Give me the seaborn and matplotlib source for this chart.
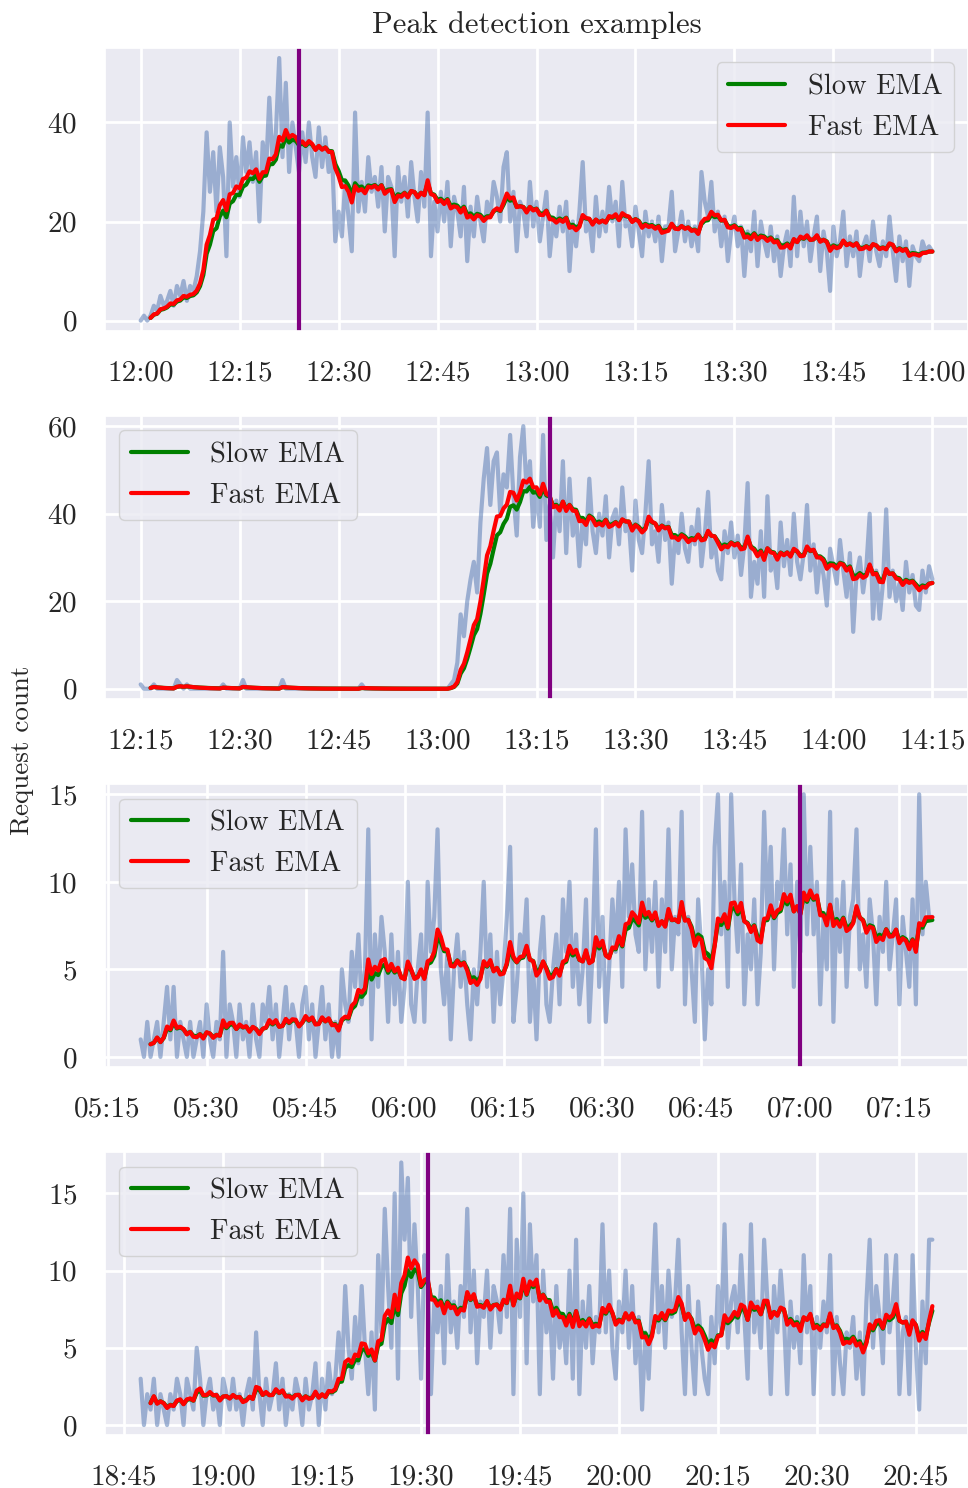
import matplotlib
matplotlib.use('Agg')
import matplotlib.pyplot as plt
import matplotlib.dates as mdates
import matplotlib.ticker as mticker
import seaborn as sns
import pandas as pd

# request counts, one value every 30 s
starts = ['2023-01-01 12:00:00', '2023-01-01 12:15:00',
          '2023-01-01 05:20:00', '2023-01-01 18:47:30']
peaks = ['2023-01-01 12:24:00', '2023-01-01 13:17:00',
         '2023-01-01 07:00:00', '2023-01-01 19:31:00']

counts_1 = [0, 1, 0, 1, 3, 2, 5, 3, 4, 6, 3, 7, 5, 8, 4, 7, 6, 9, 14, 22,
            38, 26, 34, 22, 35, 29, 13, 40, 27, 33, 25, 37, 30, 36, 28, 34,
            20, 36, 30, 45, 32, 38, 53, 33, 48, 30, 40, 35, 30, 38, 32, 40,
            33, 29, 39, 31, 37, 30, 34, 16, 22, 17, 28, 21, 14, 42, 22, 28,
            22, 33, 26, 29, 23, 31, 18, 29, 27, 13, 31, 24, 29, 21, 32, 25,
            20, 30, 23, 42, 13, 24, 18, 26, 20, 28, 15, 25, 22, 17, 27, 12,
            23, 17, 25, 20, 16, 24, 21, 28, 25, 20, 31, 34, 20, 26, 14, 24,
            22, 17, 28, 19, 24, 16, 21, 26, 13, 20, 17, 23, 18, 24, 10, 20,
            15, 22, 32, 18, 20, 14, 25, 17, 22, 18, 27, 20, 24, 15, 28, 19,
            20, 15, 23, 18, 13, 22, 17, 20, 16, 21, 12, 19, 19, 26, 14, 18,
            22, 16, 20, 15, 19, 14, 30, 24, 21, 28, 18, 22, 15, 21, 12, 18,
            21, 15, 19, 9, 18, 14, 22, 11, 20, 16, 13, 19, 12, 17, 9, 15,
            18, 11, 25, 13, 22, 15, 20, 12, 17, 21, 10, 18, 14, 6, 19, 13,
            16, 22, 11, 17, 13, 18, 9, 15, 17, 12, 20, 14, 11, 16, 13, 21,
            14, 8, 17, 12, 16, 7, 15, 13, 12, 16, 14, 15, 14]

counts_2 = [1, 0, 0, 0, 1, 0, 0, 0, 0, 0, 0, 2, 1, 0, 1, 0, 0, 0, 0, 0,
            0, 0, 0, 0, 0, 1, 0, 0, 0, 0, 0, 2, 0, 0, 0, 0, 0, 0, 0, 0,
            0, 0, 0, 2, 0, 0, 0, 0, 0, 0, 0, 0, 0, 0, 0, 0, 0, 0, 0, 0,
            0, 0, 0, 0, 0, 0, 0, 1, 0, 0, 0, 0, 0, 0, 0, 0, 0, 0, 0, 0,
            0, 0, 0, 0, 0, 0, 0, 0, 0, 0, 0, 0, 0, 0, 1, 2,
            6, 17, 12, 20, 25, 29, 22, 38, 48, 55, 42, 52, 54, 40, 49, 46,
            58, 44, 35, 53, 60, 45, 52, 37, 46, 37, 58, 34, 42, 30, 43, 36,
            52, 31, 48, 35, 40, 28, 39, 33, 48, 36, 31, 40, 35, 44, 30, 39,
            41, 33, 46, 36, 38, 27, 43, 34, 31, 40, 52, 33, 36, 29, 42, 34,
            38, 24, 35, 31, 40, 32, 29, 37, 33, 41, 28, 35, 45, 30, 34, 27,
            25, 36, 31, 38, 30, 35, 26, 33, 47, 21, 29, 24, 36, 21, 44, 27,
            30, 23, 38, 28, 34, 26, 40, 29, 25, 31, 42, 27, 33, 22, 30, 26,
            19, 32, 28, 24, 34, 27, 21, 31, 13, 26, 30, 22, 28, 40, 16, 27,
            16, 24, 41, 21, 27, 20, 24, 18, 29, 22, 26, 19, 18, 27, 22, 28,
            25]

counts_3 = [1, 0, 2, 0, 1, 2, 0, 2, 4, 1, 4, 0, 2, 1, 0, 2, 0, 1, 2, 0,
            3, 1, 0, 2, 1, 6, 0, 3, 2, 0, 3, 1, 2, 0, 3, 1, 0, 3, 2, 4,
            1, 3, 0, 2, 4, 1, 3, 2, 0, 3, 4, 1, 3, 0, 2, 4, 1, 3, 0, 2,
            0, 5, 3, 2, 6, 4, 7, 3, 5, 13, 1, 7, 4, 8, 6, 2, 7, 3, 6, 2,
            4, 10, 3, 2, 5, 7, 2, 10, 6, 8, 13, 5, 3, 6, 1, 5, 7, 4, 6, 3,
            1, 5, 3, 6, 10, 4, 7, 2, 6, 3, 5, 8, 12, 2, 4, 7, 6, 9, 2, 5,
            1, 6, 8, 3, 2, 5, 7, 3, 9, 6, 10, 4, 7, 3, 5, 9, 2, 6, 13, 4,
            8, 2, 5, 9, 6, 10, 4, 13, 8, 11, 7, 6, 14, 5, 9, 6, 10, 4, 9, 6,
            13, 5, 8, 7, 14, 3, 8, 5, 2, 9, 6, 1, 5, 3, 12, 15, 7, 10, 4, 15,
            9, 6, 11, 3, 7, 5, 9, 3, 6, 14, 8, 12, 5, 10, 9, 13, 7, 11, 4, 10,
            6, 15, 7, 12, 7, 10, 3, 8, 5, 14, 2, 9, 6, 10, 4, 8, 9, 13, 5, 7,
            4, 9, 7, 3, 8, 6, 10, 5, 7, 9, 3, 8, 6, 4, 9, 3, 15, 7, 10, 8,
            8]

counts_4 = [3, 0, 2, 1, 3, 0, 2, 1, 0, 2, 1, 3, 2, 0, 3, 2, 1, 5, 3, 0,
            2, 3, 1, 2, 0, 3, 2, 1, 3, 1, 2, 0, 2, 3, 1, 6, 2, 0, 3, 1,
            2, 4, 1, 3, 0, 2, 1, 3, 2, 0, 3, 1, 2, 4, 0, 3, 1, 4, 2, 3,
            6, 3, 9, 5, 3, 7, 4, 9, 5, 2, 6, 1, 11, 6, 14, 9, 5, 15, 3, 17,
            12, 16, 7, 13, 9, 3, 11, 10, 2, 8, 6, 9, 4, 11, 6, 8, 5, 9, 7, 14,
            6, 10, 4, 8, 7, 10, 5, 9, 8, 6, 11, 7, 14, 2, 12, 7, 15, 4, 13, 8,
            11, 2, 10, 6, 8, 3, 9, 5, 7, 4, 10, 3, 12, 2, 8, 5, 9, 4, 7, 6,
            13, 6, 10, 5, 3, 8, 6, 10, 5, 9, 4, 7, 1, 6, 3, 8, 13, 6, 9, 5,
            10, 7, 8, 12, 6, 2, 9, 5, 2, 8, 5, 3, 2, 7, 4, 9, 6, 13, 5, 8,
            9, 6, 11, 7, 3, 13, 6, 8, 5, 12, 8, 2, 9, 6, 10, 7, 2, 8, 5, 7,
            4, 11, 6, 9, 2, 7, 5, 8, 6, 11, 2, 7, 4, 2, 6, 5, 7, 3, 6, 2,
            8, 12, 5, 9, 7, 4, 11, 6, 8, 11, 2, 6, 7, 2, 11, 5, 1, 8, 4, 12,
            12]

all_counts = [counts_1, counts_2, counts_3, counts_4]
y_steps = [20, 20, 5, 5]
legend_locs = ['upper right', 'upper left', 'upper left', 'upper left']


def main():
    sns.set_theme(style='darkgrid')
    plt.rcParams['font.family'] = 'serif'
    plt.rcParams['font.serif'] = ['cmr10', 'DejaVu Serif']
    plt.rcParams['mathtext.fontset'] = 'cm'
    plt.rcParams['axes.formatter.use_mathtext'] = True

    fig, axes = plt.subplots(4, 1, figsize=(9.68, 14.88), dpi=100)
    fig.subplots_adjust(left=0.1085, right=1.0, top=0.9677,
                        bottom=0.0356, hspace=0.303)

    for k, ax in enumerate(axes):
        df = pd.DataFrame({'count': all_counts[k]})
        df['time'] = pd.date_range(starts[k], periods=len(df), freq='30s')
        # moving averages of the raw counts
        df['slow'] = df['count'].ewm(span=13, min_periods=4).mean()
        df['fast'] = df['count'].ewm(span=10, min_periods=4).mean()

        sns.lineplot(data=df, x='time', y='count', ax=ax, color='C0',
                     alpha=0.5, linewidth=3, errorbar=None)
        sns.lineplot(data=df, x='time', y='slow', ax=ax, color='green',
                     linewidth=3, label='Slow EMA', errorbar=None)
        sns.lineplot(data=df, x='time', y='fast', ax=ax, color='red',
                     linewidth=3, label='Fast EMA', errorbar=None)
        ax.axvline(pd.Timestamp(peaks[k]), color='purple', linewidth=3)

        ax.margins(x=0.045, y=0.038)
        ax.xaxis.set_major_locator(mdates.MinuteLocator(byminute=[0, 15, 30, 45]))
        ax.xaxis.set_major_formatter(mdates.DateFormatter('%H:%M'))
        ax.yaxis.set_major_locator(mticker.MultipleLocator(y_steps[k]))
        ax.grid(linewidth=2)
        ax.set_xlabel('')
        ax.set_ylabel('')
        ax.tick_params(axis='x', labelsize=21, length=0, pad=21)
        ax.tick_params(axis='y', labelsize=21, length=0, pad=20)
        ax.legend(loc=legend_locs[k], fontsize=20.5)

    axes[0].set_title('Peak detection examples', fontsize=22, pad=11)
    fig.text(0.0227, 0.496, 'Request count', rotation=90, ha='center',
             va='center', fontsize=19.5)

    plt.savefig('out.png', dpi=100)


if __name__ == "__main__":
    main()
